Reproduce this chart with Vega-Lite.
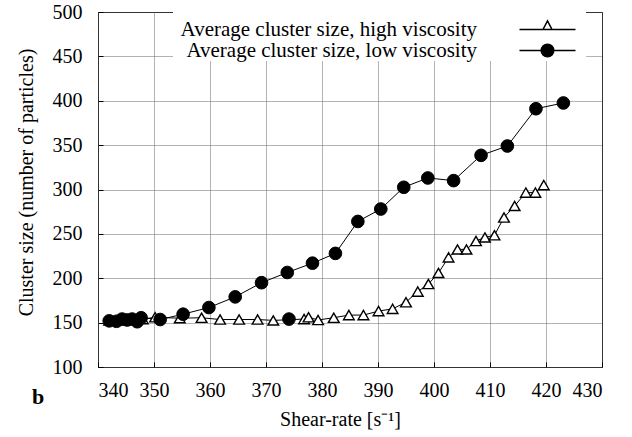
{
  "$schema": "https://vega.github.io/schema/vega-lite/v6.json",
  "width": 504,
  "height": 355,
  "autosize": "none",
  "padding": {"left": 98, "top": 12, "right": 30, "bottom": 70},
  "background": "white",
  "title": {"text": "b", "orient": "bottom", "anchor": "start", "frame": "group", "dx": -66, "offset": -42, "font": "Liberation Serif", "fontSize": 22, "fontWeight": "bold", "color": "black"},
  "config": {
    "font": "Liberation Serif",
    "view": {"stroke": "black", "strokeWidth": 1},
    "axis": {
      "labelFont": "Liberation Serif", "labelFontSize": 20, "labelColor": "black",
      "titleFont": "Liberation Serif", "titleFontSize": 20, "titleFontWeight": "normal", "titleColor": "black",
      "domain": false, "ticks": true, "tickColor": "black", "tickSize": -5,
      "grid": true, "gridColor": "#666", "gridDash": [1, 1], "gridOpacity": 1, "gridWidth": 1
    },
    "legend": {
      "labelFont": "Liberation Serif", "labelFontSize": 21, "labelColor": "black", "labelAlign": "right", "labelOffset": -81, "labelLimit": 0,
      "symbolSize": 144, "symbolOffset": 357, "rowPadding": 0, "padding": 7
    }
  },
  "data": {"values": [
    {"x": 342, "y": 152.5, "s": "high", "run": 1},
    {"x": 344, "y": 153, "s": "high", "run": 1},
    {"x": 346, "y": 153.5, "s": "high", "run": 1},
    {"x": 348, "y": 154, "s": "high", "run": 1},
    {"x": 350.2, "y": 156, "s": "high", "run": 1},
    {"x": 354.6, "y": 155, "s": "high", "run": 1},
    {"x": 358.5, "y": 155.5, "s": "high", "run": 1},
    {"x": 361.8, "y": 153.5, "s": "high", "run": 1},
    {"x": 365.2, "y": 153.5, "s": "high", "run": 1},
    {"x": 368.5, "y": 153.5, "s": "high", "run": 1},
    {"x": 371.3, "y": 152.5, "s": "high", "run": 1},
    {"x": 376.8, "y": 154, "s": "high", "run": 1},
    {"x": 377.6, "y": 156, "s": "high", "run": 1},
    {"x": 379.3, "y": 153, "s": "high", "run": 1},
    {"x": 382.1, "y": 155.5, "s": "high", "run": 1},
    {"x": 384.8, "y": 158.5, "s": "high", "run": 1},
    {"x": 387.4, "y": 158.5, "s": "high", "run": 1},
    {"x": 390.1, "y": 163, "s": "high", "run": 1},
    {"x": 392.6, "y": 165.5, "s": "high", "run": 1},
    {"x": 395, "y": 173, "s": "high", "run": 1},
    {"x": 397.1, "y": 185, "s": "high", "run": 1},
    {"x": 399, "y": 193.5, "s": "high", "run": 1},
    {"x": 400.8, "y": 206, "s": "high", "run": 1},
    {"x": 402.6, "y": 223.5, "s": "high", "run": 1},
    {"x": 404.2, "y": 232.5, "s": "high", "run": 1},
    {"x": 405.8, "y": 232.5, "s": "high", "run": 1},
    {"x": 407.5, "y": 242, "s": "high", "run": 1},
    {"x": 409.1, "y": 246, "s": "high", "run": 1},
    {"x": 410.8, "y": 248.5, "s": "high", "run": 1},
    {"x": 412.5, "y": 268.5, "s": "high", "run": 1},
    {"x": 414.4, "y": 281.5, "s": "high", "run": 1},
    {"x": 416.4, "y": 296.5, "s": "high", "run": 1},
    {"x": 418.1, "y": 296.5, "s": "high", "run": 1},
    {"x": 419.6, "y": 305, "s": "high", "run": 1},
    {"x": 342, "y": 152, "s": "low", "run": 1},
    {"x": 343.3, "y": 151.5, "s": "low", "run": 1},
    {"x": 344.3, "y": 154, "s": "low", "run": 1},
    {"x": 345.2, "y": 153, "s": "low", "run": 1},
    {"x": 346.1, "y": 154, "s": "low", "run": 1},
    {"x": 347, "y": 151, "s": "low", "run": 1},
    {"x": 347.7, "y": 155.5, "s": "low", "run": 1},
    {"x": 351.1, "y": 153.5, "s": "low", "run": 1},
    {"x": 355.2, "y": 159.5, "s": "low", "run": 1},
    {"x": 359.8, "y": 167, "s": "low", "run": 1},
    {"x": 364.5, "y": 179, "s": "low", "run": 1},
    {"x": 369.2, "y": 195, "s": "low", "run": 1},
    {"x": 373.8, "y": 206.5, "s": "low", "run": 1},
    {"x": 378.3, "y": 217, "s": "low", "run": 1},
    {"x": 382.4, "y": 228, "s": "low", "run": 1},
    {"x": 386.4, "y": 264, "s": "low", "run": 1},
    {"x": 390.5, "y": 278, "s": "low", "run": 1},
    {"x": 394.6, "y": 302.5, "s": "low", "run": 1},
    {"x": 398.9, "y": 313, "s": "low", "run": 1},
    {"x": 403.5, "y": 310, "s": "low", "run": 1},
    {"x": 408.4, "y": 338.5, "s": "low", "run": 1},
    {"x": 413.1, "y": 349, "s": "low", "run": 1},
    {"x": 418.2, "y": 391, "s": "low", "run": 1},
    {"x": 423.1, "y": 397.5, "s": "low", "run": 1},
    {"x": 374.1, "y": 154, "s": "low", "run": 2}
  ]},
  "encoding": {
    "x": {"field": "x", "type": "quantitative",
          "scale": {"domain": [340, 430], "nice": false, "zero": false},
          "axis": {"values": [340, 350, 360, 370, 380, 390, 400, 410, 420, 430], "labelPadding": 18, "title": "Shear-rate [s⁻¹]", "titlePadding": 9, "titleX": 242}},
    "y": {"field": "y", "type": "quantitative",
          "scale": {"domain": [100, 500], "nice": false, "zero": false},
          "axis": {"values": [100, 150, 200, 250, 300, 350, 400, 450, 500], "labelPadding": 21, "title": "Cluster size (number of particles)", "titlePadding": 16, "titleY": 170}}
  },
  "layer": [
    {
      "mark": {"type": "line", "color": "black", "strokeWidth": 1},
      "encoding": {"detail": [{"field": "s"}, {"field": "run"}]}
    },
    {
      "transform": [{"filter": "datum.s === 'high'"}],
      "mark": {"type": "point", "shape": "triangle-up", "filled": true, "fill": "white", "stroke": "black", "strokeWidth": 1.4, "size": 114},
      "encoding": {
        "opacity": {"field": "s", "type": "ordinal", "scale": {"domain": ["high"], "range": [1, 1]},
          "legend": {"title": "\u00a0", "titleOrient": "bottom", "titleFontSize": 12, "titlePadding": 3, "orient": "none", "legendX": 75, "legendY": 0, "fillColor": "white", "zindex": 0,
            "labelExpr": "'Average cluster size, ' + datum.label + ' viscosity'",
            "symbolType": "M -4.67 0 L -0.75 0 M 0.75 0 L 4.67 0 M 0 -1.45 L 0.75 0 L -0.75 0 Z"}}
      }
    },
    {
      "transform": [{"filter": "datum.s === 'low'"}],
      "mark": {"type": "point", "shape": "circle", "filled": true, "fill": "black", "stroke": "black", "strokeWidth": 1, "size": 160},
      "encoding": {
        "opacity": {"field": "s", "type": "ordinal", "scale": {"domain": ["low"], "range": [1, 1]},
          "legend": {"title": null, "orient": "none", "legendX": 75, "legendY": 21, "zindex": 1,
            "labelExpr": "'Average cluster size, ' + datum.label + ' viscosity'",
            "symbolType": "M -4.67 0 L -1.05 0 M 1.05 0 L 4.67 0 M -1.05 0 A 1.05 1.05 0 1 0 1.05 0 A 1.05 1.05 0 1 0 -1.05 0 Z"}}
      }
    }
  ],
  "resolve": {"scale": {"opacity": "independent"}, "legend": {"opacity": "independent"}}
}
